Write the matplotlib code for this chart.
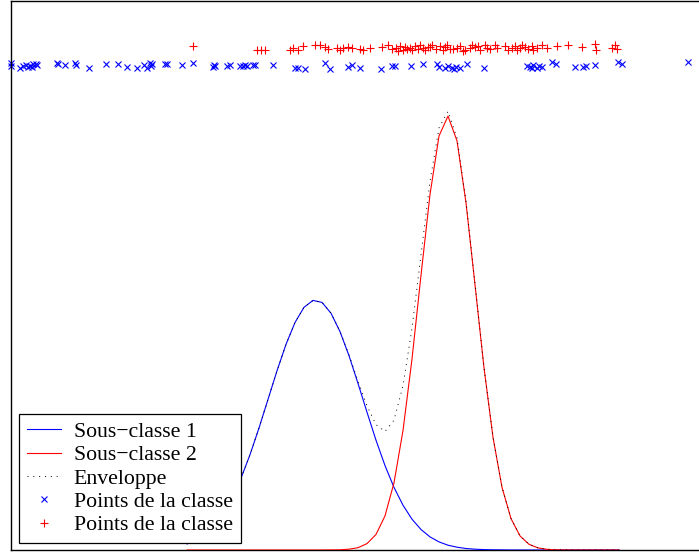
import matplotlib
matplotlib.use("Agg")
import matplotlib.pyplot as plt
import numpy as np

# grille des courbes
x_grid = [17.6, 18.5, 19.4, 20.3, 21.2, 22.1, 23.0, 23.9, 24.8, 25.7,
          26.6, 27.5, 28.4, 29.3, 30.2, 31.1, 32.0, 32.9, 33.8, 34.7,
          35.6, 36.5, 37.4, 38.3, 39.2, 40.1, 41.0, 41.9, 42.8, 43.7,
          44.6, 45.5, 46.4, 47.3, 48.2, 49.1, 50.0, 50.9, 51.8, 52.7,
          53.6, 54.5, 55.4, 56.3, 57.2, 58.1, 59.0, 59.9, 60.8]

# sous-classe 1 (bleu)
dens1 = [0.0061, 0.0101, 0.0161, 0.0247, 0.0366, 0.0522, 0.0718, 0.0953, 0.1220, 0.1506,
         0.1792, 0.2056, 0.2275, 0.2427, 0.2496, 0.2476, 0.2368, 0.2184, 0.1943, 0.1666,
         0.1378, 0.1098, 0.0844, 0.0626, 0.0448, 0.0308, 0.0205, 0.0131, 0.0081, 0.0048,
         0.0028, 0.0015, 0.0008, 0.0004, 0.0002, 0.0001, 0.0, 0.0, 0.0, 0.0,
         0.0, 0.0, 0.0, 0.0, 0.0, 0.0, 0.0, 0.0, 0.0]

# sous-classe 2 (rouge)
dens2 = [0.0, 0.0, 0.0, 0.0, 0.0, 0.0, 0.0, 0.0, 0.0, 0.0,
         0.0, 0.0, 0.0, 0.0, 0.0, 0.0, 0.0001, 0.0002, 0.0008, 0.0023,
         0.0064, 0.0155, 0.0341, 0.0672, 0.1195, 0.1910, 0.2747, 0.3555, 0.4140, 0.4339,
         0.4092, 0.3472, 0.2652, 0.1822, 0.1127, 0.0627, 0.0314, 0.0141, 0.0057, 0.0021,
         0.0007, 0.0002, 0.0001, 0.0, 0.0, 0.0, 0.0, 0.0, 0.0]

# points de la classe (bleu, x)
pts1_x = [0.0, 0.0, 0.9, 1.2, 1.5, 1.7, 1.9, 2.1, 2.2, 2.5, 2.6, 4.6, 4.7, 5.4, 6.4,
          6.5, 7.8, 9.5, 10.7, 11.6, 12.6, 13.3, 13.6, 13.9, 14.0, 14.1, 15.4, 15.6,
          17.1, 18.2, 20.2, 20.3, 20.4, 21.6, 21.9, 22.9, 23.2, 23.4, 23.6, 24.2, 24.4,
          26.2, 28.4, 28.7, 29.4, 31.4, 31.9, 33.7, 34.1, 34.9, 37.0, 38.1, 38.4, 40.0,
          41.2, 42.6, 42.8, 43.4, 43.7, 44.1, 44.3, 44.5, 44.9, 45.6, 47.3, 51.6, 51.9,
          52.1, 52.2, 52.6, 52.8, 53.1, 54.1, 54.5, 56.4, 57.2, 57.5, 58.4, 60.7, 61.1,
          67.7]
pts1_y = [0.484, 0.487, 0.482, 0.484, 0.485, 0.483, 0.484, 0.483, 0.486, 0.486, 0.485,
          0.487, 0.486, 0.485, 0.487, 0.485, 0.482, 0.486, 0.486, 0.483, 0.482, 0.485,
          0.482, 0.487, 0.484, 0.486, 0.486, 0.486, 0.485, 0.487, 0.483, 0.485, 0.484,
          0.484, 0.485, 0.484, 0.484, 0.485, 0.484, 0.485, 0.485, 0.485, 0.482, 0.482,
          0.481, 0.487, 0.481, 0.483, 0.485, 0.482, 0.481, 0.484, 0.484, 0.484, 0.486,
          0.486, 0.483, 0.482, 0.484, 0.482, 0.481, 0.483, 0.482, 0.486, 0.482, 0.484,
          0.483, 0.482, 0.485, 0.482, 0.484, 0.483, 0.488, 0.486, 0.483, 0.483, 0.484,
          0.485, 0.488, 0.486, 0.488]

# points de la classe (rouge, +)
pts2_x = [18.2, 24.6, 25.0, 25.4, 27.9, 28.2, 28.7, 29.2, 30.4, 30.9, 31.4, 31.7,
          32.6, 32.9, 33.2, 33.7, 34.1, 34.9, 35.2, 35.9, 37.1, 37.7, 38.1, 38.5,
          38.7, 38.9, 39.2, 39.4, 39.6, 39.9, 40.1, 40.4, 40.7, 40.9, 41.2, 41.4,
          41.7, 41.9, 42.1, 42.5, 42.9, 43.2, 43.4, 43.6, 43.9, 44.2, 44.6, 44.9,
          45.2, 45.4, 45.9, 46.1, 46.4, 46.7, 46.9, 47.4, 47.6, 47.9, 48.4, 48.6,
          49.4, 49.7, 50.1, 50.4, 50.6, 50.9, 51.1, 51.4, 51.7, 52.1, 52.2, 52.6,
          53.1, 53.6, 54.6, 55.7, 57.1, 58.4, 58.5, 60.1, 60.4, 60.6]
pts2_y = [0.504, 0.500, 0.500, 0.500, 0.500, 0.502, 0.500, 0.504, 0.505, 0.505, 0.503,
          0.501, 0.502, 0.500, 0.502, 0.503, 0.502, 0.501, 0.500, 0.502, 0.503, 0.505,
          0.501, 0.502, 0.499, 0.504, 0.500, 0.503, 0.501, 0.502, 0.500, 0.504, 0.501,
          0.505, 0.502, 0.500, 0.503, 0.503, 0.505, 0.501, 0.504, 0.500, 0.503, 0.505,
          0.501, 0.501, 0.502, 0.504, 0.499, 0.500, 0.502, 0.505, 0.503, 0.504, 0.500,
          0.505, 0.502, 0.501, 0.505, 0.502, 0.504, 0.500, 0.502, 0.504, 0.500, 0.502,
          0.505, 0.503, 0.501, 0.504, 0.500, 0.502, 0.505, 0.502, 0.504, 0.505, 0.503,
          0.506, 0.500, 0.502, 0.505, 0.501]

labels = ["Sous\u2212classe 1", "Sous\u2212classe 2", "Enveloppe",
          "Points de la classe", "Points de la classe"]


def main():
    plt.rcParams["font.family"] = ["Liberation Serif", "DejaVu Serif"]

    fig = plt.figure(figsize=(6.99, 5.54), dpi=100)
    ax = fig.add_axes([11 / 699, 4 / 554, 1.0, 549 / 554])

    enveloppe = np.array(dens1) + np.array(dens2)

    ax.plot(x_grid, dens1, color=(0, 0, 1), lw=0.8, zorder=3, label=labels[0])
    ax.plot(x_grid, dens2, color=(1, 0, 0), lw=0.8, zorder=3, label=labels[1])
    ax.plot(x_grid, enveloppe, color="k", ls=(0, (1, 5)), lw=0.7, zorder=3,
            label=labels[2])
    ax.plot(pts1_x, pts1_y, ls="none", marker="x", ms=4.5, mew=0.8,
            color=(0, 0, 1), clip_on=False, label=labels[3])
    ax.plot(pts2_x, pts2_y, ls="none", marker="+", ms=6, mew=0.8,
            color=(1, 0, 0), clip_on=False, label=labels[4])

    ax.set_xlim(0, 69.9)
    ax.set_ylim(0, 0.549)
    ax.set_xticks([])
    ax.set_yticks([])
    for s in ax.spines.values():
        s.set_linewidth(1.0)
        s.set_color("k")

    leg = ax.legend(loc="lower left", bbox_to_anchor=(8 / 699, 7 / 549),
                    borderaxespad=0, fontsize=15.7, numpoints=1, fancybox=False,
                    framealpha=1, edgecolor="k", handlelength=1.55,
                    handletextpad=0.6, labelspacing=0.14, borderpad=0.36)
    leg.get_frame().set_linewidth(0.9)

    fig.savefig("out.png", dpi=100)


if __name__ == "__main__":
    main()
